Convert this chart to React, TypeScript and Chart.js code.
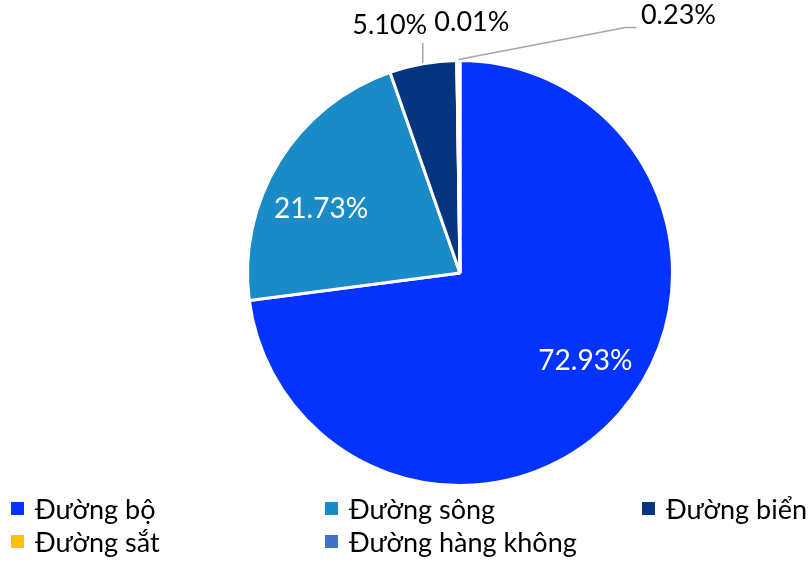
import React, { useEffect, useRef } from "react";
import { Chart, registerables } from "chart.js";

Chart.register(...registerables);

const categories = ["Đường bộ", "Đường sông", "Đường biển", "Đường sắt", "Đường hàng không"];
const shares = [72.93, 21.73, 5.1, 0.01, 0.23];
const colors = ["#0433FF", "#1A8BC6", "#05357F", "#FFC000", "#4472C4"];
const labelText = ["72.93%", "21.73%", "5.10%", "0.01%", "0.23%"];

const FONT = "Lato, 'Noto Sans', sans-serif";

// label placement styles (relative to arc geometry)
const labelStyle: any[] = [
  { inside: true, frac: 0.72, dAngle: -0.11 },
  { inside: true, frac: 0.72, dAngle: -0.12 },
  { inside: false, dx: -33, dy: -37, leader: [[0, -20]] },
  { inside: false, dx: 15, dy: -37 },
  { inside: false, dx: 220, dy: -44, leader: [[167, -32], [178, -32]] },
];

const labelPlugin = {
  id: "sliceLabels",
  afterDatasetsDraw(chart: any) {
    const ctx = chart.ctx;
    const meta = chart.getDatasetMeta(0);
    ctx.save();
    ctx.textAlign = "center";
    ctx.textBaseline = "middle";
    meta.data.forEach((arc: any, i: number) => {
      const s = labelStyle[i];
      const mid = (arc.startAngle + arc.endAngle) / 2;
      const R = arc.outerRadius;
      if (s.inside) {
        const a = mid + s.dAngle;
        const x = arc.x + Math.cos(a) * R * s.frac;
        const y = arc.y + Math.sin(a) * R * s.frac;
        ctx.font = `28px ${FONT}`;
        ctx.fillStyle = "#FFFFFF";
        ctx.fillText(labelText[i], x, y);
      } else {
        const ex = arc.x + Math.cos(mid) * (R + 1);
        const ey = arc.y + Math.sin(mid) * (R + 1);
        if (s.leader) {
          ctx.strokeStyle = "#A6A6A6";
          ctx.lineWidth = 1.5;
          ctx.beginPath();
          ctx.moveTo(ex, ey);
          s.leader.forEach((p: number[]) => ctx.lineTo(ex + p[0], ey + p[1]));
          ctx.stroke();
        }
        ctx.font = `27px ${FONT}`;
        ctx.fillStyle = "#000000";
        ctx.fillText(labelText[i], ex + s.dx, ey + s.dy);
      }
    });
    ctx.restore();
  },
};

function PieChart() {
  const ref = useRef<HTMLCanvasElement | null>(null);
  useEffect(() => {
    if (!ref.current) return;
    const chart = new Chart(ref.current, {
      type: "pie",
      data: {
        labels: categories,
        datasets: [
          {
            data: shares,
            backgroundColor: colors,
            borderColor: "#FFFFFF",
            borderWidth: 3,
          },
        ],
      },
      options: {
        animation: false,
        responsive: false,
        maintainAspectRatio: false,
        layout: { padding: { left: 246, right: 138, top: 58, bottom: 75 } },
        plugins: {
          legend: { display: false },
          tooltip: { enabled: false },
        },
      },
      plugins: [labelPlugin],
    });
    return () => chart.destroy();
  }, []);
  return <canvas ref={ref} width={812} height={563} style={{ position: "absolute", left: 0, top: 0 }} />;
}

const legendCols = [11, 325, 642];

export default function App() {
  useEffect(() => {
    document.body.style.margin = "0";
  }, []);
  return (
    <div style={{ position: "relative", width: 812, height: 563, background: "#fff", overflow: "hidden" }}>
      <PieChart />
      {categories.map((c, i) => {
        const col = i % 3;
        const row = Math.floor(i / 3);
        return (
          <div
            key={c}
            style={{
              position: "absolute",
              left: legendCols[col],
              top: 492 + row * 33,
              height: 32,
              display: "flex",
              alignItems: "center",
              fontFamily: FONT,
              fontSize: 27,
              color: "#000",
              whiteSpace: "nowrap",
            }}
          >
            <span style={{ display: "inline-block", width: 13, height: 13, background: colors[i], marginRight: 11 }} />
            <span>{c}</span>
          </div>
        );
      })}
    </div>
  );
}
